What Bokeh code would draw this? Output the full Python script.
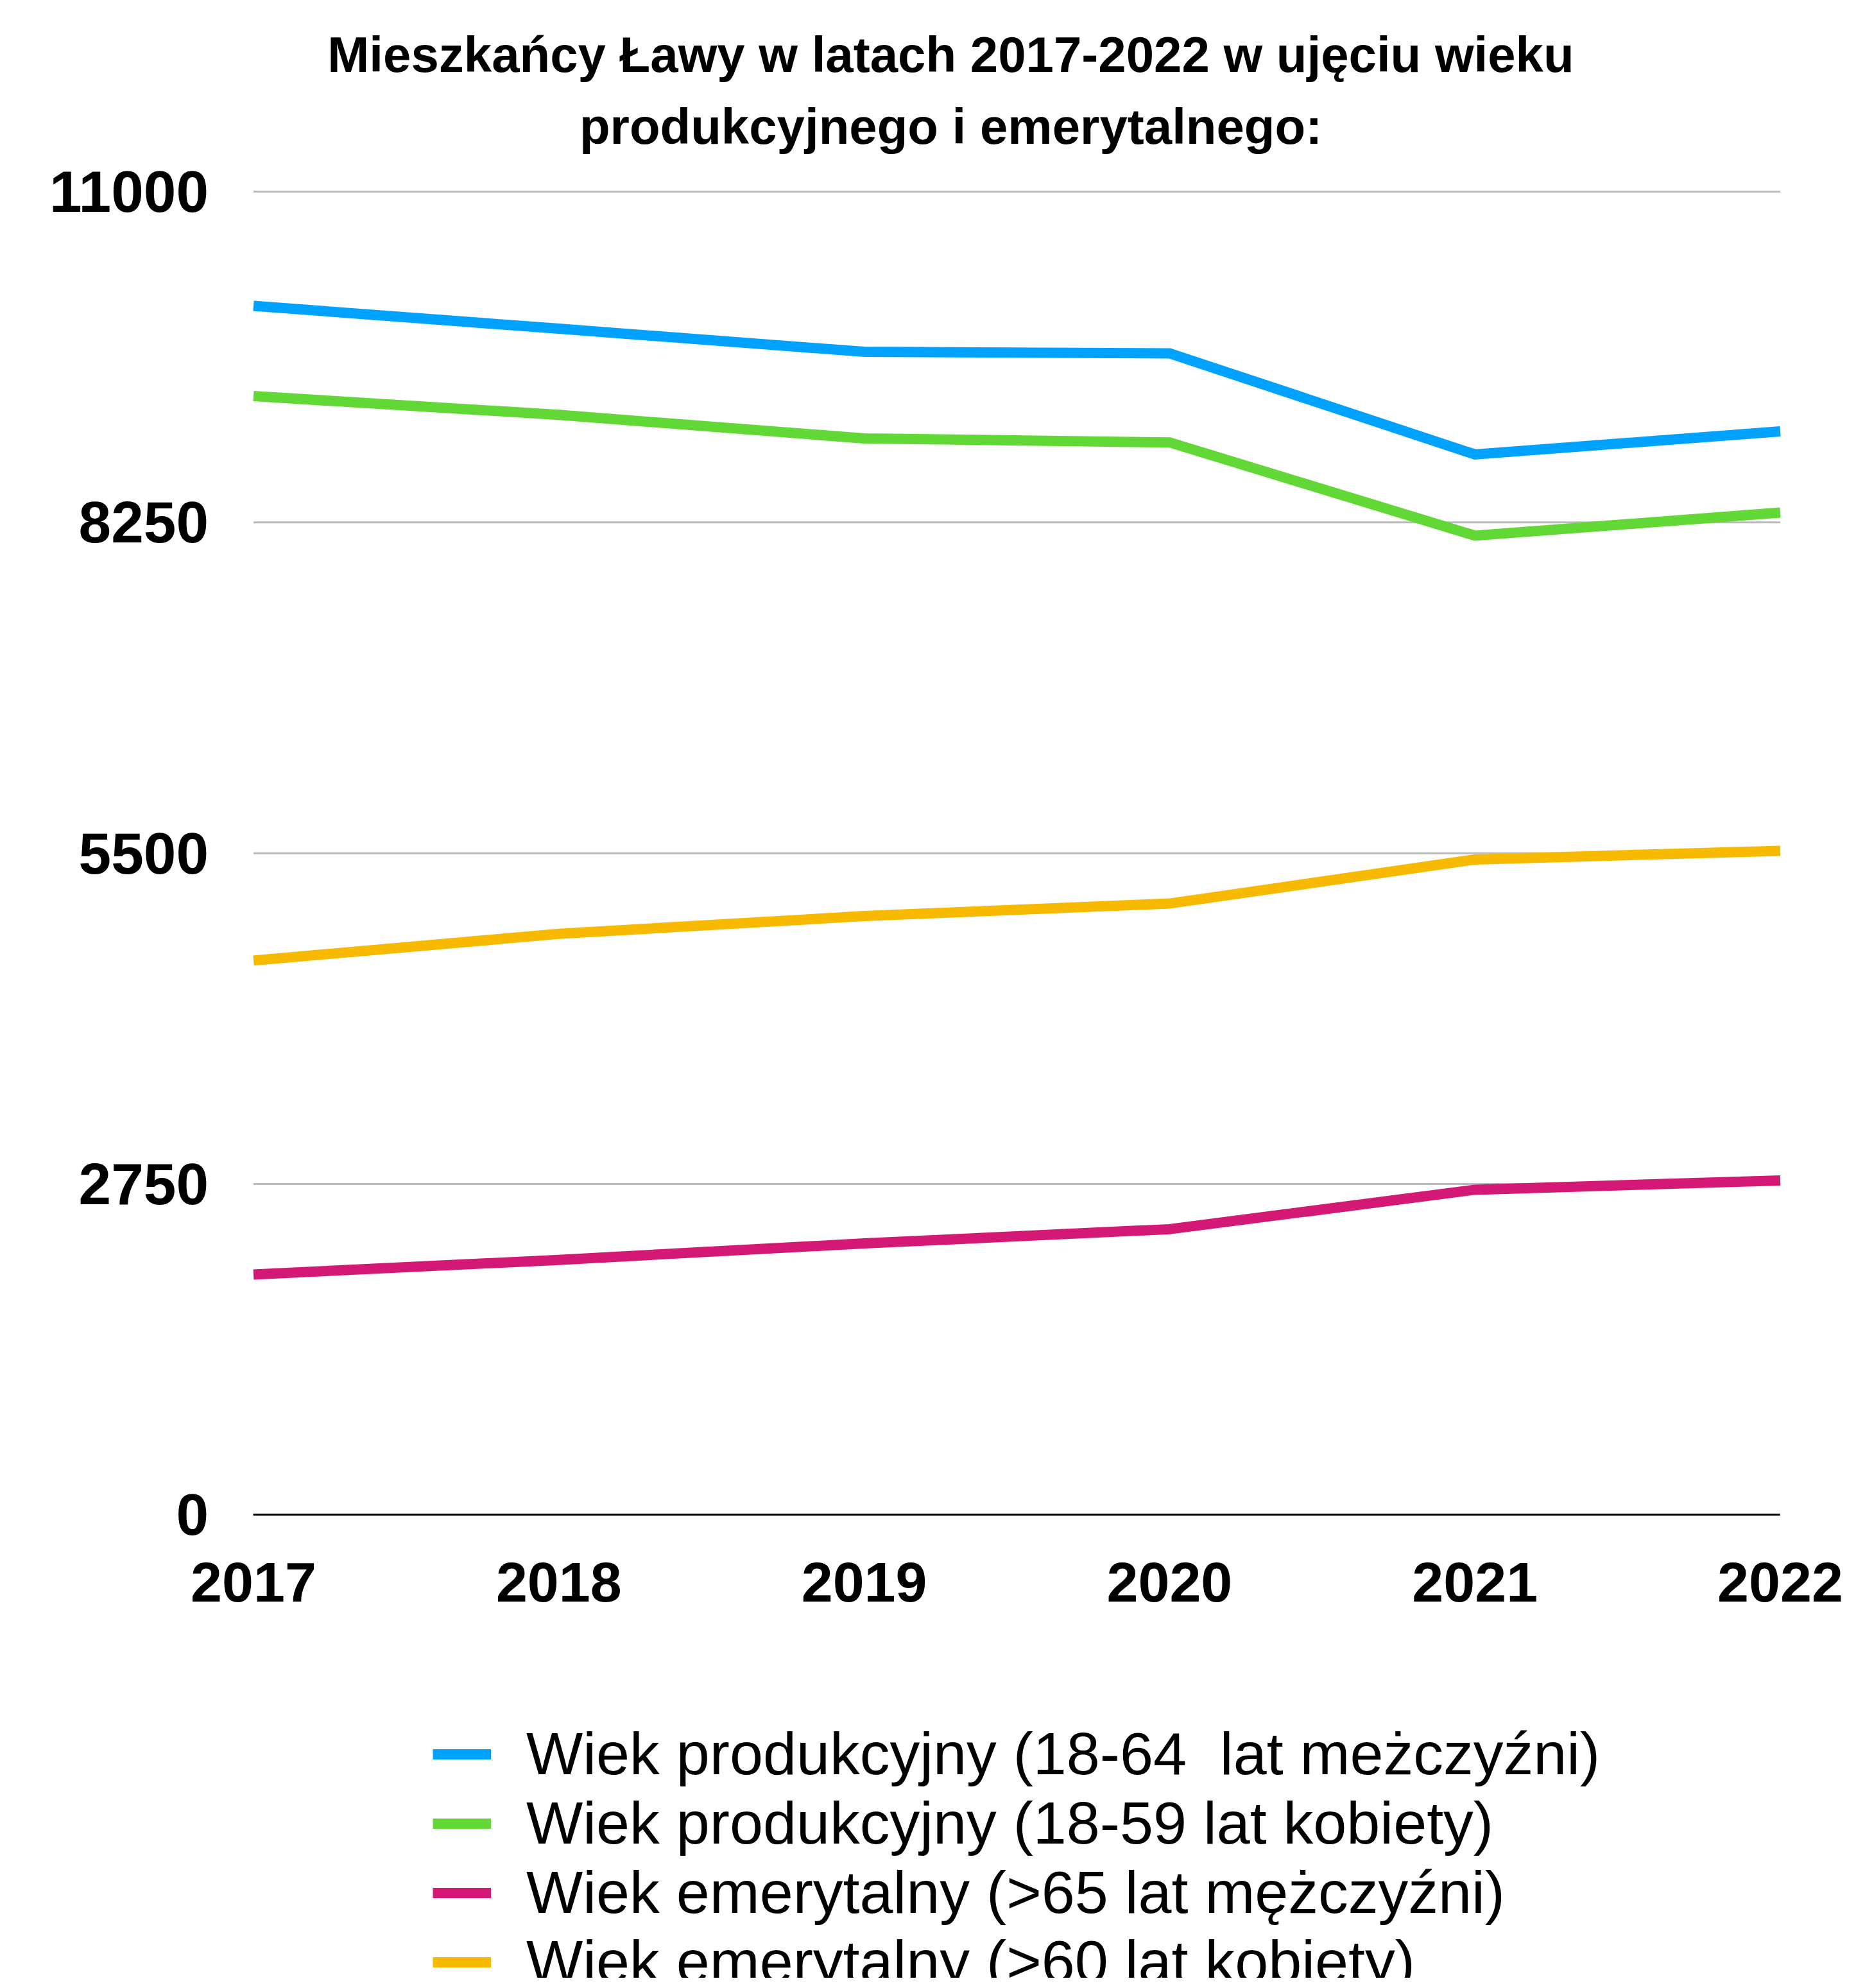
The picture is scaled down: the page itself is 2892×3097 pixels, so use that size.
from bokeh.plotting import figure
from bokeh.models import (Range1d, FixedTicker, NumeralTickFormatter, Label,
                          Legend, LegendItem)
from bokeh.embed import file_html
from bokeh.resources import INLINE

years = [2017, 2018, 2019, 2020, 2021, 2022]
prod_m = [10050, 9860, 9668, 9655, 8815, 9007]
prod_k = [9300, 9144, 8948, 8915, 8140, 8332]
emer_m = [1998, 2120, 2257, 2375, 2703, 2780]
emer_k = [4608, 4830, 4978, 5082, 5448, 5520]

labels = [
    "Wiek produkcyjny (18-64  lat meżczyźni)",
    "Wiek produkcyjny (18-59 lat kobiety)",
    "Wiek emerytalny (>65 lat mężczyźni)",
    "Wiek emerytalny (>60 lat kobiety)",
]
colors = ["#00A2FF", "#61D836", "#D31876", "#F8BA00"]
y_ticks = [0, 2750, 5500, 8250, 11000]
title1 = "Mieszkańcy Ławy w latach 2017-2022 w ujęciu wieku"
title2 = "produkcyjnego i emerytalnego:"

FONT = "Liberation Sans"
W, H = 2876, 3081

# The frame covers the whole canvas; axes are pinned to the data origin so
# that the title, tick labels and legend all live inside it.
p = figure(width=W, height=H,
           x_range=Range1d(2016.17087, 2022.21543),
           y_range=Range1d(-3849.8, 12589.8),
           output_backend="svg", toolbar_location=None, title=None,
           min_border_left=0, min_border_right=0,
           min_border_top=0, min_border_bottom=0)

p.outline_line_color = None
p.background_fill_color = "white"
p.border_fill_color = "white"
p.xgrid.visible = False
p.ygrid.visible = False

# horizontal grid lines spanning only the data years
p.segment(x0=[years[0]] * len(y_ticks), x1=[years[-1]] * len(y_ticks),
          y0=y_ticks, y1=y_ticks, line_color="#BBBBBB", line_width=3)

renderers = []
for vals, c in zip([prod_m, prod_k, emer_m, emer_k], colors):
    r = p.line(years, vals, line_color=c, line_width=16, line_join="miter")
    renderers.append(r)

# x axis pinned at y = 0
p.xaxis.fixed_location = 0
p.xaxis.bounds = (years[0], years[-1])
p.xaxis.ticker = FixedTicker(ticks=years)
p.xaxis.major_label_text_font = FONT
p.xaxis.major_label_text_font_size = "88px"
p.xaxis.major_label_text_font_style = "bold"
p.xaxis.major_label_text_color = "black"
p.xaxis.major_tick_line_color = None
p.xaxis.minor_tick_line_color = None
p.xaxis.axis_line_color = "black"
p.xaxis.axis_line_width = 3
p.xaxis.major_label_standoff = 68

# y axis pinned at the first year
p.yaxis.fixed_location = years[0]
p.yaxis.ticker = FixedTicker(ticks=y_ticks)
p.yaxis.formatter = NumeralTickFormatter(format="0")
p.yaxis.major_label_text_font = FONT
p.yaxis.major_label_text_font_size = "91px"
p.yaxis.major_label_text_font_style = "bold"
p.yaxis.major_label_text_color = "black"
p.yaxis.major_tick_line_color = None
p.yaxis.minor_tick_line_color = None
p.yaxis.axis_line_color = None
p.yaxis.major_label_standoff = 64

# two-line title
for txt, y in [(title1, H - 84.7), (title2, H - 196)]:
    p.add_layout(Label(x=1481, y=y, x_units="screen", y_units="screen",
                       text=txt, text_align="center", text_baseline="alphabetic",
                       text_font=FONT, text_font_size="78px",
                       text_font_style="bold", text_color="black"))

legend = Legend(
    items=[LegendItem(label=l, renderers=[r]) for l, r in zip(labels, renderers)],
    location=(674, -29),
    label_text_font=FONT, label_text_font_size="93.5px", label_text_color="black",
    glyph_width=91, glyph_height=107, label_height=107, label_standoff=55,
    spacing=0, padding=0, margin=0,
    border_line_color=None, background_fill_alpha=0,
)
p.add_layout(legend, "center")

open("out.html", "w").write(file_html(p, INLINE))
